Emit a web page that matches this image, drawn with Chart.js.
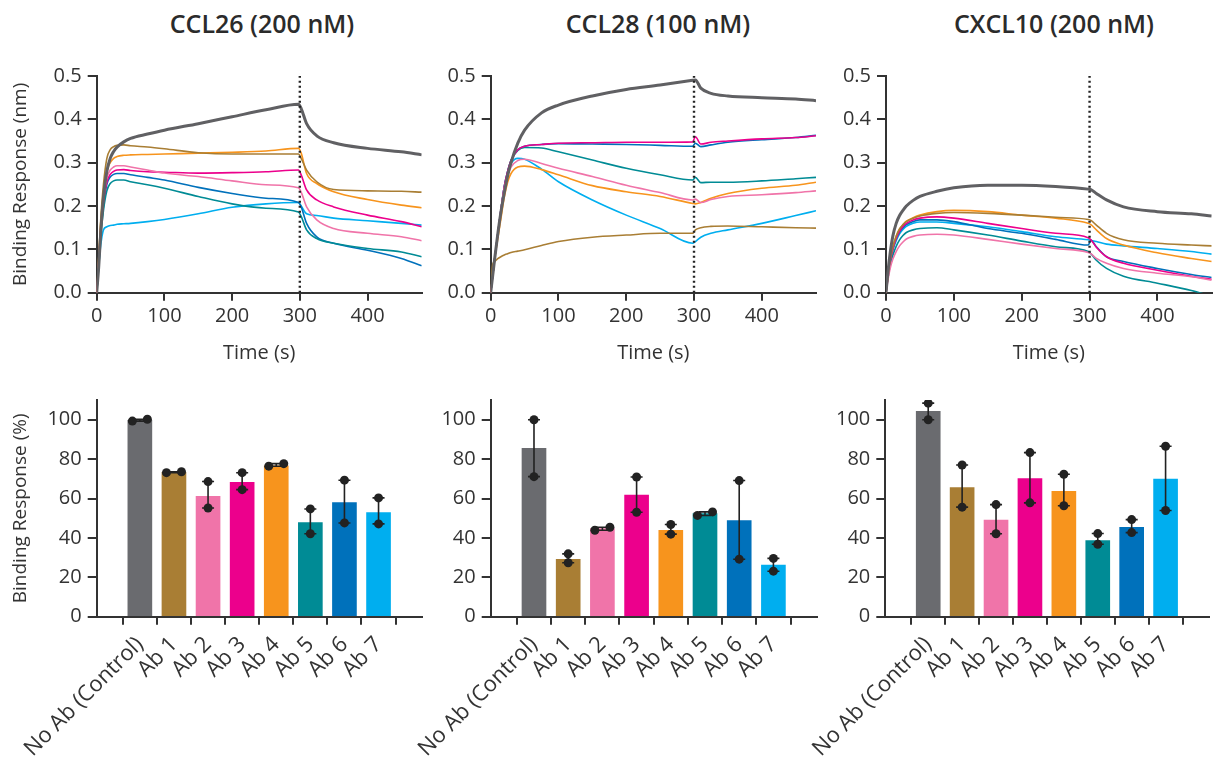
<!DOCTYPE html>
<html>
<head>
<meta charset="utf-8">
<title>Chemokine binding with antibodies</title>
<script src="https://cdn.jsdelivr.net/npm/chart.js@4.4.1/dist/chart.umd.min.js"></script>
<style>
body{margin:0;width:1213px;height:758px;position:relative;overflow:hidden;background:#fff}
canvas{position:absolute}
.title{position:absolute;top:10px;width:400px;text-align:center;font:600 25px/26px "Open Sans",sans-serif;color:#2b2b2b}
</style>
</head>
<body>
<div class=title style="left:62px">CCL26 (200 nM)</div>
<div class=title style="left:458px">CCL28 (100 nM)</div>
<div class=title style="left:854px">CXCL10 (200 nM)</div>
<canvas id=c1 width=430 height=320 style="left:0;top:60px"></canvas>
<canvas id=c2 width=400 height=320 style="left:430px;top:60px"></canvas>
<canvas id=c3 width=383 height=320 style="left:830px;top:60px"></canvas>
<canvas id=c4 width=430 height=368 style="left:0;top:390px"></canvas>
<canvas id=c5 width=430 height=368 style="left:395px;top:390px"></canvas>
<canvas id=c6 width=423 height=368 style="left:790px;top:390px"></canvas>
<script>
"use strict"

// sample times (s) shared by every sensorgram
var timeS = [0, 3, 6, 10, 15, 20, 25, 30, 40, 50, 75, 100, 150, 200, 250, 298, 302, 310, 325, 350, 400, 450, 480]
var dissocStart = 300
var timeTicks = [0, 100, 200, 300, 400]
var nmTicks = [0, 0.1, 0.2, 0.3, 0.4, 0.5]
var pctTicks = [0, 20, 40, 60, 80, 100]

var abNames = ['No Ab (Control)', 'Ab 1', 'Ab 2', 'Ab 3', 'Ab 4', 'Ab 5', 'Ab 6', 'Ab 7']
var abColors = ['#6a6b6f', '#a97e34', '#f074a9', '#ec008c', '#f7941d', '#008b95', '#0071bb', '#00aeef']

// binding response (nm), one row per antibody in abNames order
var ccl26Curves = [
	[0, 0.06, 0.14, 0.22, 0.28, 0.31, 0.326, 0.336, 0.348, 0.356, 0.366, 0.375, 0.39, 0.406, 0.422, 0.435, 0.425, 0.39, 0.362, 0.346, 0.333, 0.325, 0.318],
	[0, 0.08, 0.17, 0.25, 0.31, 0.33, 0.337, 0.34, 0.341, 0.339, 0.336, 0.332, 0.323, 0.32, 0.32, 0.32, 0.31, 0.283, 0.256, 0.238, 0.235, 0.234, 0.232],
	[0, 0.07, 0.15, 0.22, 0.265, 0.283, 0.29, 0.293, 0.293, 0.29, 0.283, 0.276, 0.268, 0.258, 0.249, 0.242, 0.232, 0.198, 0.168, 0.148, 0.137, 0.129, 0.12],
	[0, 0.07, 0.15, 0.21, 0.255, 0.273, 0.28, 0.283, 0.284, 0.282, 0.279, 0.278, 0.276, 0.277, 0.279, 0.283, 0.272, 0.237, 0.214, 0.198, 0.179, 0.164, 0.152],
	[0, 0.08, 0.16, 0.23, 0.28, 0.3, 0.31, 0.314, 0.317, 0.318, 0.319, 0.32, 0.322, 0.324, 0.327, 0.333, 0.322, 0.275, 0.252, 0.233, 0.215, 0.202, 0.196],
	[0, 0.06, 0.13, 0.19, 0.235, 0.252, 0.258, 0.26, 0.26, 0.256, 0.249, 0.241, 0.222, 0.205, 0.195, 0.186, 0.176, 0.145, 0.125, 0.114, 0.102, 0.094, 0.083],
	[0, 0.07, 0.14, 0.2, 0.25, 0.267, 0.273, 0.275, 0.275, 0.272, 0.266, 0.26, 0.243, 0.229, 0.218, 0.208, 0.198, 0.16, 0.129, 0.114, 0.098, 0.079, 0.062],
	[0, 0.06, 0.11, 0.145, 0.152, 0.155, 0.156, 0.158, 0.159, 0.16, 0.164, 0.169, 0.182, 0.197, 0.205, 0.208, 0.2, 0.182, 0.178, 0.172, 0.166, 0.16, 0.156]
]
var ccl28Curves = [
	[0, 0.04, 0.08, 0.13, 0.185, 0.23, 0.27, 0.3, 0.345, 0.375, 0.415, 0.433, 0.454, 0.469, 0.479, 0.49, 0.491, 0.472, 0.46, 0.454, 0.45, 0.447, 0.443],
	[0, 0.066, 0.072, 0.078, 0.083, 0.087, 0.09, 0.093, 0.096, 0.099, 0.109, 0.118, 0.128, 0.133, 0.137, 0.137, 0.145, 0.15, 0.153, 0.154, 0.152, 0.15, 0.149],
	[0, 0.04, 0.08, 0.13, 0.19, 0.24, 0.27, 0.29, 0.305, 0.308, 0.298, 0.287, 0.268, 0.248, 0.231, 0.214, 0.216, 0.208, 0.215, 0.222, 0.226, 0.231, 0.235],
	[0, 0.04, 0.08, 0.13, 0.19, 0.245, 0.28, 0.305, 0.33, 0.338, 0.342, 0.345, 0.346, 0.347, 0.347, 0.348, 0.36, 0.343, 0.347, 0.35, 0.355, 0.358, 0.362],
	[0, 0.04, 0.08, 0.12, 0.17, 0.22, 0.255, 0.275, 0.29, 0.292, 0.284, 0.272, 0.247, 0.233, 0.222, 0.206, 0.205, 0.208, 0.218, 0.229, 0.241, 0.248, 0.255],
	[0, 0.04, 0.08, 0.13, 0.19, 0.245, 0.28, 0.305, 0.328, 0.335, 0.334, 0.325, 0.306, 0.287, 0.272, 0.26, 0.266, 0.254, 0.255, 0.255, 0.258, 0.263, 0.266],
	[0, 0.04, 0.08, 0.13, 0.19, 0.245, 0.28, 0.305, 0.33, 0.338, 0.342, 0.344, 0.343, 0.342, 0.34, 0.338, 0.345, 0.337, 0.341, 0.347, 0.353, 0.358, 0.363],
	[0, 0.04, 0.08, 0.13, 0.19, 0.24, 0.275, 0.298, 0.31, 0.308, 0.285, 0.256, 0.214, 0.179, 0.148, 0.114, 0.118, 0.128, 0.137, 0.145, 0.16, 0.178, 0.189]
]
var cxcl10Curves = [
	[0, 0.05, 0.09, 0.13, 0.16, 0.178, 0.19, 0.2, 0.213, 0.222, 0.234, 0.242, 0.248, 0.248, 0.245, 0.239, 0.238, 0.229, 0.214, 0.198, 0.187, 0.182, 0.177],
	[0, 0.04, 0.075, 0.105, 0.13, 0.147, 0.157, 0.164, 0.172, 0.177, 0.183, 0.185, 0.183, 0.179, 0.174, 0.169, 0.167, 0.156, 0.137, 0.122, 0.114, 0.11, 0.108],
	[0, 0.03, 0.055, 0.077, 0.095, 0.108, 0.117, 0.124, 0.13, 0.133, 0.135, 0.133, 0.123, 0.112, 0.102, 0.093, 0.09, 0.079, 0.068, 0.056, 0.045, 0.037, 0.029],
	[0, 0.04, 0.072, 0.1, 0.125, 0.142, 0.153, 0.16, 0.168, 0.172, 0.175, 0.172, 0.16, 0.148, 0.137, 0.127, 0.122, 0.105, 0.083, 0.068, 0.052, 0.038, 0.031],
	[0, 0.04, 0.075, 0.105, 0.13, 0.147, 0.157, 0.165, 0.173, 0.179, 0.187, 0.19, 0.187, 0.179, 0.172, 0.16, 0.157, 0.145, 0.125, 0.11, 0.092, 0.079, 0.072],
	[0, 0.035, 0.062, 0.086, 0.107, 0.122, 0.132, 0.139, 0.145, 0.148, 0.15, 0.145, 0.133, 0.119, 0.106, 0.095, 0.09, 0.075, 0.056, 0.038, 0.022, 0.005, -0.008],
	[0, 0.04, 0.072, 0.1, 0.124, 0.14, 0.15, 0.157, 0.164, 0.168, 0.168, 0.164, 0.148, 0.137, 0.123, 0.11, 0.121, 0.106, 0.083, 0.072, 0.056, 0.042, 0.035],
	[0, 0.04, 0.07, 0.098, 0.12, 0.136, 0.146, 0.153, 0.16, 0.163, 0.163, 0.16, 0.152, 0.141, 0.129, 0.122, 0.121, 0.118, 0.112, 0.108, 0.102, 0.095, 0.089]
]

// binding response (%) bars and the two replicates behind each one
var ccl26Bars = [99.7, 73.3, 61.1, 68.2, 76.6, 47.8, 57.9, 52.9]
var ccl26RepA = [99.3, 73.1, 68.6, 73.1, 76.4, 54.7, 69.3, 60.3]
var ccl26RepB = [100.2, 73.6, 55.2, 64.5, 77.7, 42.1, 47.6, 47.1]
var ccl28Bars = [85.5, 29.1, 44.7, 61.7, 43.9, 52.4, 48.8, 26.2]
var ccl28RepA = [100, 31.9, 43.9, 70.9, 46.8, 51.4, 69.1, 29.6]
var ccl28RepB = [71.1, 27.4, 45.4, 53.0, 41.9, 53.2, 29.2, 23.1]
var cxcl10Bars = [104.2, 65.5, 49.0, 70.1, 63.7, 38.7, 45.4, 69.8]
var cxcl10RepA = [108.4, 77.0, 56.9, 83.3, 72.3, 42.2, 49.3, 86.5]
var cxcl10RepB = [100, 55.6, 42.1, 57.8, 56.3, 36.8, 42.7, 53.9]

Chart.defaults.font.family = '"Open Sans"'
Chart.defaults.color = '#333'

var ink = '#333'

function fixedTicks(values){
	return function(scale){
		scale.ticks = values.map(function(v){ return {value: v} })
	}
}

function yAxis(width, min, max, values, titleText, fmt){
	return {
		min: min, max: max,
		afterBuildTicks: fixedTicks(values),
		afterFit: function(s){ s.width = width; s.paddingTop = 0; s.paddingBottom = 0 },
		border: {color: ink, width: 2},
		grid: {drawOnChartArea: false, tickLength: 9, color: ink, lineWidth: 2},
		ticks: {padding: 6, font: {size: 20}, callback: fmt},
		title: {display: !!titleText, text: titleText, font: {size: 19}, padding: {top: 9}}
	}
}

// error range: line between the replicates with a cap at each end
var rangeBars = {
	id: 'rangeBars',
	afterDatasetDraw: function(chart, args){
		var ds = chart.data.datasets[args.index]
		if (!ds.reps) return
		var ctx = chart.ctx, xs = chart.scales.x, ys = chart.scales.y
		ctx.save()
		ctx.strokeStyle = '#222'
		ctx.lineWidth = 1.6
		ds.reps[0].forEach(function(a, i){
			var b = ds.reps[1][i],
			x = xs.getPixelForValue(i),
			y1 = ys.getPixelForValue(Math.min(a, b)),
			y2 = ys.getPixelForValue(Math.max(a, b))
			ctx.beginPath()
			ctx.moveTo(x, y1); ctx.lineTo(x, y2)
			ctx.moveTo(x - 6, y1); ctx.lineTo(x + 6, y1)
			ctx.moveTo(x - 6, y2); ctx.lineTo(x + 6, y2)
			ctx.stroke()
		})
		ctx.restore()
	}
}

function curveChart(id, curves, yWidth, yTitle, padRight){
	var datasets = curves.map(function(vals, k){
		return {
			data: timeS.map(function(t, i){ return {x: t, y: vals[i]} }),
			borderColor: k ? abColors[k] : '#606063',
			borderWidth: k ? 1.6 : 3,
			pointRadius: 0,
			cubicInterpolationMode: 'monotone',
			order: k ? 1 : 0
		}
	})
	datasets.push({
		data: [{x: dissocStart, y: nmTicks[0]}, {x: dissocStart, y: nmTicks[nmTicks.length - 1]}],
		borderColor: '#222', borderWidth: 2.4, borderDash: [2, 3], pointRadius: 0, order: -1
	})
	new Chart(document.getElementById(id), {
		type: 'line',
		data: {datasets: datasets},
		options: {
			responsive: false,
			animation: false,
			layout: {padding: {top: 16, right: padRight, left: 0, bottom: 0}},
			plugins: {legend: {display: false}, tooltip: {enabled: false}},
			scales: {
				x: {
					type: 'linear', min: 0, max: 480,
					afterBuildTicks: fixedTicks(timeTicks),
					afterFit: function(s){ s.height = 87.3; s.paddingLeft = 0; s.paddingRight = 0 },
					border: {color: ink, width: 2},
					grid: {drawOnChartArea: false, tickLength: 8, color: ink, lineWidth: 2},
					ticks: {padding: 4, font: {size: 20}, maxRotation: 0},
					title: {display: true, text: 'Time (s)', font: {size: 20}, padding: {bottom: 15}}
				},
				y: yAxis(yWidth, 0, 0.5, nmTicks, yTitle, function(v){ return v.toFixed(1) })
			}
		}
	})
}

function barChart(id, bars, repA, repB, yWidth, yTitle, padRight){
	var dots = []
	repA.forEach(function(a, i){
		var b = repB[i],
		// replicates that would overlap are set side by side
		shift = Math.abs(a - b) < 3 ? 0.22 : 0
		dots.push({x: i - shift, y: a}, {x: i + shift, y: b})
	})
	new Chart(document.getElementById(id), {
		type: 'bar',
		data: {
			datasets: [{
				type: 'scatter',
				data: dots,
				pointRadius: 4.5,
				pointBackgroundColor: '#222',
				pointBorderWidth: 0,
				order: 0
			}, {
				data: bars.map(function(v, i){ return {x: i, y: v} }),
				backgroundColor: abColors,
				barThickness: 24,
				reps: [repA, repB],
				order: 1
			}]
		},
		options: {
			responsive: false,
			animation: false,
			layout: {padding: {top: 10, right: padRight, left: 0, bottom: 0}},
			plugins: {legend: {display: false}, tooltip: {enabled: false}},
			scales: {
				x: {
					type: 'linear', min: -0.67, max: abNames.length - 0.33,
					afterBuildTicks: fixedTicks(abNames.map(function(n, i){ return i })),
					afterFit: function(s){ s.height = 141.3; s.paddingLeft = 0; s.paddingRight = 0 },
					border: {color: ink, width: 2},
					grid: {drawOnChartArea: false, tickLength: 8, color: ink, lineWidth: 2},
					ticks: {
						padding: 7, font: {size: 22}, autoSkip: false,
						minRotation: 45, maxRotation: 45,
						callback: function(v){ return abNames[v] }
					}
				},
				y: yAxis(yWidth, 0, 110, pctTicks, yTitle)
			}
		},
		plugins: [rangeBars]
	})
}

curveChart('c1', ccl26Curves, 96.7, 'Binding Response (nm)', 8.3)
curveChart('c2', ccl28Curves, 60.7, '', 14)
curveChart('c3', cxcl10Curves, 56, '', 1.3)
barChart('c4', ccl26Bars, ccl26RepA, ccl26RepB, 96.7, 'Binding Response (%)', 8.3)
barChart('c5', ccl28Bars, ccl28RepA, ccl28RepB, 95.7, '', 8.3)
barChart('c6', cxcl10Bars, cxcl10RepA, cxcl10RepB, 95.3, '', 1.3)
</script>
</body>
</html>
